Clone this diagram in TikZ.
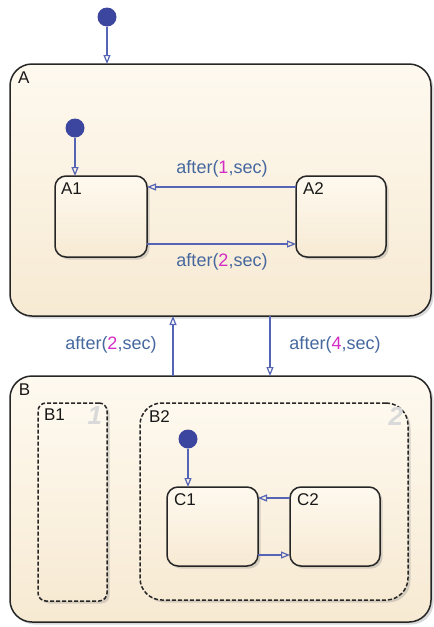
\documentclass[tikz,border=0pt]{standalone}
\usepackage{fontspec}
\setmainfont{Liberation Sans}
\usetikzlibrary{arrows.meta,shadows}
\definecolor{edgeblue}{HTML}{5564B4}
\definecolor{dotblue}{HTML}{3D469E}
\definecolor{lblblue}{HTML}{46689E}
\definecolor{num}{HTML}{D22CC4}
\definecolor{ftop}{HTML}{FEF9EF}
\definecolor{fbot}{HTML}{F7EAD3}
\definecolor{faint}{HTML}{D9D9D9}
\tikzset{
  every node/.style={inner sep=0pt, outer sep=0pt},
  statebox/.style={draw=black!85, line width=1.5pt, top color=ftop, bottom color=fbot,
     drop shadow={shadow xshift=2.5pt, shadow yshift=-2.5pt, opacity=0.3}},
  dashbox/.style={statebox, dash pattern=on 4pt off 2pt},
  lbl/.style={font=\fontsize{17}{17}\selectfont, text=black!90, anchor=north west},
  bignum/.style={font=\fontsize{26}{26}\selectfont\itshape\bfseries, text=faint, anchor=north east},
  dot/.style={circle, fill=dotblue, minimum size=19pt},
  tr/.style={draw=edgeblue, line width=1.2pt, -{Triangle[open, length=9pt, width=7pt]}},
  tlbl/.style={font=\fontsize{18}{18}\selectfont, text=lblblue}
}
\newcommand{\aft}[1]{after(\textcolor{num}{#1},sec)}
\begin{document}
\begin{tikzpicture}[x=1pt,y=-1pt]
\useasboundingbox (0,0) rectangle (434,627);
% superstate A
\node[statebox, rounded corners=22pt, minimum width=421pt, minimum height=252pt, anchor=north west] (A) at (10,64) {};
\node[lbl] (Alab) at ([shift={(8,8)}]A.north west) {A};
% A1, A2
\node[statebox, rounded corners=11pt, minimum width=92pt, minimum height=81pt, anchor=north west] (A1) at (55,176) {};
\node[lbl] (A1lab) at ([shift={(6,7)}]A1.north west) {A1};
\node[statebox, rounded corners=11pt, minimum width=90pt, minimum height=81pt, anchor=north west] (A2) at (296,176) {};
\node[lbl] (A2lab) at ([shift={(7,7)}]A2.north west) {A2};
% superstate B
\node[statebox, rounded corners=22pt, minimum width=421pt, minimum height=246pt, anchor=north west] (B) at (10,376) {};
\node[lbl] (Blab) at ([shift={(9,8)}]B.north west) {B};
% B1
\node[dashbox, rounded corners=8pt, minimum width=69pt, minimum height=198pt, anchor=north west] (B1) at (38,403) {};
\node[lbl] (B1lab) at ([shift={(6,6)}]B1.north west) {B1};
\node[bignum] (B1n) at ([shift={(-5,4)}]B1.north east) {1};
% B2
\node[dashbox, rounded corners=22pt, minimum width=268pt, minimum height=197pt, anchor=north west] (B2) at (140,403) {};
\node[lbl] (B2lab) at ([shift={(9,8)}]B2.north west) {B2};
\node[bignum] (B2n) at ([shift={(-5,4)}]B2.north east) {2};
% C1, C2
\node[statebox, rounded corners=11pt, minimum width=91pt, minimum height=79pt, anchor=north west] (C1) at (167,487) {};
\node[lbl] (C1lab) at ([shift={(7,7)}]C1.north west) {C1};
\node[statebox, rounded corners=11pt, minimum width=90pt, minimum height=79pt, anchor=north west] (C2) at (290,487) {};
\node[lbl] (C2lab) at ([shift={(7,7)}]C2.north west) {C2};
% initial dots and default transitions
\node[dot] (i0) at (107,17) {};
\draw[tr] (i0) -- (A.north -| i0);
\node[dot] (i1) at (75,128) {};
\draw[tr] (i1) -- (A1.north -| i1);
\node[dot] (i2) at (188,439) {};
\draw[tr] (i2) -- (C1.north -| i2);
% transitions in A
\coordinate (yA1) at (0,187);
\coordinate (yA2) at (0,244);
\draw[tr] (A2.west |- yA1) -- (A1.east |- yA1);
\draw[tr] (A1.east |- yA2) -- (A2.west |- yA2);
\node[tlbl] (t1) at (222,169) {\aft{1}};
\node[tlbl] (t2) at (222,262) {\aft{2}};
% transitions between A and B
\coordinate (xBA) at (173,0);
\coordinate (xAB) at (270,0);
\draw[tr] (B.north -| xBA) -- (A.south -| xBA);
\draw[tr] (A.south -| xAB) -- (B.north -| xAB);
\node[tlbl] (t3) at (111,345) {\aft{2}};
\node[tlbl] (t4) at (335,345) {\aft{4}};
% transitions in B2
\coordinate (yC1) at (0,498);
\coordinate (yC2) at (0,555);
\draw[tr] (C2.west |- yC1) -- (C1.east |- yC1);
\draw[tr] (C1.east |- yC2) -- (C2.west |- yC2);
\end{tikzpicture}
\end{document}
